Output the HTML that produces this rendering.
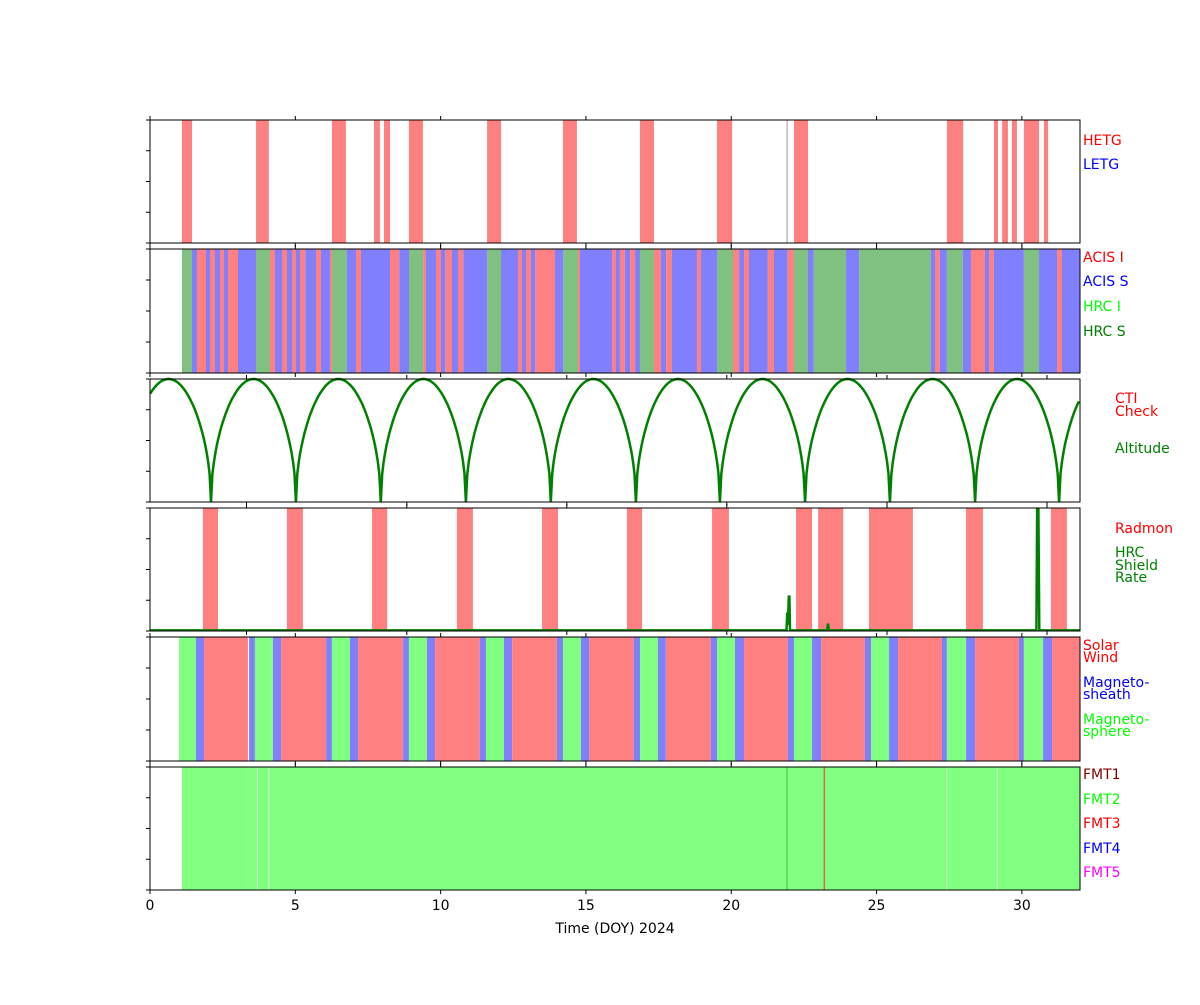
<!DOCTYPE html>
<html><head><meta charset="utf-8">
<style>
body{margin:0;background:#fff;}
svg text{font-family:"DejaVu Sans","Liberation Sans",sans-serif;font-size:14px;}
</style></head>
<body>
<svg id="chart" width="1200" height="1000" xmlns="http://www.w3.org/2000/svg"></svg>
<script>
// ---- data (DOY 2024) ----
const xTicks = [0,5,10,15,20,25,30];
const gratStarts = [1.10,3.65,6.26,7.71,8.05,8.91,11.60,14.21,16.86,19.51,22.16,27.42,29.04,29.32,29.66,30.07,30.76];
const gratEnds   = [1.445,4.09,6.74,7.91,8.26,9.39,12.08,14.69,17.34,20.03,22.64,27.98,29.18,29.52,29.83,30.59,30.90];
const instBounds = [1.10,1.445,1.617,1.927,2.064,2.236,2.409,2.546,2.684,3.028,3.647,4.129,4.301,4.542,4.714,4.886,5.024,5.161,5.345,5.712,5.884,6.193,6.262,6.767,7.088,7.260,8.258,8.579,8.912,9.405,9.497,9.841,10.013,10.162,10.391,10.598,10.781,11.607,12.077,12.662,12.800,12.937,13.109,13.258,13.935,14.222,14.726,14.795,15.896,16.034,16.17,16.34,16.52,16.69,16.86,17.34,17.58,17.76,17.96,18.82,18.96,19.51,20.06,20.27,20.44,20.61,21.26,21.47,21.94,22.16,22.64,22.84,23.95,24.40,26.87,27.01,27.18,27.42,27.97,28.25,28.73,28.87,29.04,30.07,30.59,31.21,31.38,32];
const instCodes  = ["HS","AS","AI","AS","AI","AS","AI","AS","AI","AS","HS","AI","AS","AI","AS","AI","AS","AI","AS","AI","AS","AI","HS","AS","AI","AS","AI","AS","HS","AI","AS","AI","AS","AI","AS","AI","AS","HS","AS","AI","AS","AI","AS","AI","AS","HS","AI","AS","AI","AS","AI","AS","AI","AS","HS","AI","AS","AI","AS","AI","AS","HS","AI","AS","AI","AS","AI","AS","AI","HS","AS","HS","AS","HS","AS","AI","AS","HS","AS","AI","AS","AI","AS","HS","AS","AI","AS"];
const perigees = [-0.82,2.10,5.02,7.94,10.87,13.79,16.72,19.61,22.54,25.46,28.39,31.28,34.2];
const radStarts = [1.82,4.71,7.64,10.56,13.49,16.41,19.34,22.23,22.99,24.74,28.08,31.00];
const radEnds   = [2.34,5.26,8.16,11.11,14.04,16.93,19.92,22.78,23.85,26.25,28.66,31.55];
const shieldTimes  = [0,21.90,21.93,21.95,21.98,22.00,22.02,23.30,23.33,23.36,30.50,30.53,30.56,30.60,32];
const shieldValues = [0.005,0.005,0.15,0.05,0.28,0.28,0.005,0.005,0.06,0.005,0.005,1.2,1.2,0.005,0.005];
const regionBounds = [1.00,1.58,1.86,3.37,3.41,3.61,4.23,4.51,6.06,6.26,6.88,7.16,8.71,8.91,9.53,9.81,11.35,11.56,12.18,12.46,14.00,14.21,14.83,15.11,16.65,16.86,17.48,17.75,19.30,19.51,20.13,20.44,21.95,22.16,22.78,23.09,24.60,24.81,25.43,25.74,27.25,27.42,28.08,28.39,29.90,30.07,30.73,31.04,32];
const regionCodes  = ["MS","SH","SW",null,"SH","MS","SH","SW","SH","MS","SH","SW","SH","MS","SH","SW","SH","MS","SH","SW","SH","MS","SH","SW","SH","MS","SH","SW","SH","MS","SH","SW","SH","MS","SH","SW","SH","MS","SH","SW","SH","MS","SH","SW","SH","MS","SH","SW"];
const fmtStarts = [1.10];
const fmtEnds   = [32];
const fmtCodes  = ["FMT2"];

// ---- layout ----
const NS="http://www.w3.org/2000/svg";
const svg=document.getElementById('chart');
const X0=150,X1=1080,DMAX=32;
const xs=d=>X0+(X1-X0)*d/DMAX;
const panels=[[120,243],[249,373],[379,502],[508,631],[637,761],[767,890]];
function el(tag,attrs,parent){const e=document.createElementNS(NS,tag);for(const k in attrs)e.setAttribute(k,attrs[k]);(parent||svg).appendChild(e);return e;}
function txt(x,y,s,fill,parent){const t=el('text',{x:x,y:y,fill:fill},parent);t.textContent=s;return t;}
function band(g,a,b,p,color){
  const r=el('rect',{x:xs(a),y:panels[p][0],width:Math.max(0,xs(b)-xs(a)),height:panels[p][1]-panels[p][0],fill:color},g);
  return r;
}
const colR='#ff8080',colB='#8080ff',colG='#80c080',colL='#80ff80';

// panel 1
const g1=el('g',{});


gratStarts.forEach((s,i)=>{const r=band(g1,s,gratEnds[i],0,colR);

});
el('line',{x1:xs(21.92),x2:xs(21.92),y1:120,y2:243,stroke:'#999','stroke-width':1},g1);

// panel 2
const g2=el('g',{});


const instCol={AI:colR,AS:colB,HI:colL,HS:colG};
instCodes.forEach((c,i)=>{const r=band(g2,instBounds[i],instBounds[i+1],1,instCol[c]);

});

// panel 3 altitude
const g3=el('g',{});


let pts=[];
for(let i=0;i<perigees.length-1;i++){
  const a=perigees[i],b=perigees[i+1];
  for(let k=0;k<=60;k++){
    const t=a+(b-a)*k/60; if(t<0||t>DMAX) continue;
    const v=Math.sqrt(Math.sin(Math.PI*k/60));
    pts.push(xs(t).toFixed(1)+','+(502-v*123).toFixed(1));
  }
}
const alt=el('polyline',{points:pts.join(' '),fill:'none',stroke:'#008000','stroke-width':2.5},g3);



// panel 4
const g4=el('g',{});


radStarts.forEach((s,i)=>{const r=band(g4,s,radEnds[i],3,colR);

});
const clip=el('clipPath',{id:'c4'});el('rect',{x:150,y:508,width:930,height:123},clip);
const sp=shieldTimes.map((t,i)=>xs(t).toFixed(1)+','+(631-shieldValues[i]*123).toFixed(1)).join(' ');
const sl=el('polyline',{points:sp,fill:'none',stroke:'#008000','stroke-width':2.5,'clip-path':'url(#c4)'},g4);



// panel 5
const g5=el('g',{});


const regCol={SW:colR,SH:colB,MS:colL};
regionCodes.forEach((c,i)=>{if(!c)return;const r=band(g5,regionBounds[i],regionBounds[i+1],4,regCol[c]);

});

// panel 6
const g6=el('g',{});


const fmtCol={FMT1:'#800000',FMT2:colL,FMT3:'#ff8080',FMT4:colB,FMT5:'#ff80ff'};
fmtCodes.forEach((c,i)=>{const r=band(g6,fmtStarts[i],fmtEnds[i],5,fmtCol[c]);

});
[3.70,4.09,27.42,29.15].forEach(d=>el('line',{x1:xs(d),x2:xs(d),y1:767,y2:890,stroke:'#fff','stroke-width':0.8,'stroke-opacity':0.8},g6));
el('line',{x1:xs(21.92),x2:xs(21.92),y1:767,y2:890,stroke:'#40c040','stroke-width':1},g6);
el('line',{x1:xs(23.2),x2:xs(23.2),y1:767,y2:890,stroke:'#ff4040','stroke-width':1.2},g6);

// frames & ticks
panels.forEach((p,i)=>{
  const [t,b]=p;
  const f=el('rect',{x:X0,y:t,width:X1-X0,height:b-t,fill:'none',stroke:'#000','stroke-width':1});
  
  
  for(let k=0;k<5;k++){const y=t+(b-t)*k/4;el('line',{x1:X0-4,x2:X0,y1:y,y2:y,stroke:'#000'});}
  let tx = (i===2||i===3)?[246.5,406.8,566.8,726.8,887,1047]:xTicks.map(xs);
  tx.forEach(x=>{el('line',{x1:x,x2:x,y1:t-4,y2:t,stroke:'#000'});el('line',{x1:x,x2:x,y1:b,y2:b+4,stroke:'#000'});});
});
xTicks.forEach(d=>{const t=txt(xs(d),910,String(d),'#000');t.setAttribute('text-anchor','middle');

});
const xt=txt(615,933,'Time (DOY) 2024','#000');xt.setAttribute('text-anchor','middle');



// legends
const labels=[
 [1083,145,'HETG','#ff0000'],[1083,169,'LETG','#0000ff'],
 [1083,262,'ACIS I','#ff0000'],[1083,286,'ACIS S','#0000ff'],[1083,311,'HRC I','#00ff00'],[1083,336,'HRC S','#008000'],
 [1115,403,'CTI','#ff0000'],[1115,416,'Check','#ff0000'],[1115,453,'Altitude','#008000'],
 [1115,533,'Radmon','#ff0000'],[1115,557,'HRC','#008000'],[1115,570,'Shield','#008000'],[1115,582,'Rate','#008000'],
 [1083,650,'Solar','#ff0000'],[1083,662,'Wind','#ff0000'],[1083,687,'Magneto-','#0000ff'],[1083,699,'sheath','#0000ff'],
 [1083,724,'Magneto-','#00ff00'],[1083,736,'sphere','#00ff00'],
 [1083,779,'FMT1','#800000'],[1083,804,'FMT2','#00ff00'],[1083,828,'FMT3','#ff0000'],[1083,853,'FMT4','#0000ff'],[1083,877,'FMT5','#ff00ff']
];
labels.forEach(l=>{const t=txt(l[0],l[1],l[2],l[3]);

});
</script>
</body></html>
